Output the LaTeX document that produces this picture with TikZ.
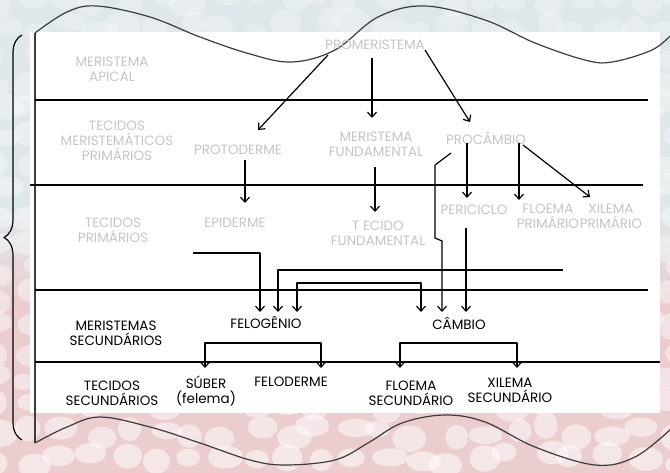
\documentclass[tikz,border=0pt]{standalone}
\usepackage{fontspec}
\setmainfont{Poppins}
\usetikzlibrary{arrows.meta,calc,decorations.pathreplacing}
\definecolor{fundo}{HTML}{DFE7EA}
\definecolor{rosa}{HTML}{EBCDCF}
\definecolor{cinza}{HTML}{C6C6C6}
\definecolor{contorno}{HTML}{3C3C3C}
\tikzset{
	rotulo/.style={align=center, inner sep=0pt, font=\fontsize{13.5}{15}\selectfont},
	claro/.style={rotulo, text=cinza},
	escuro/.style={rotulo, text=black},
}
\begin{document}
\begin{tikzpicture}[x=1pt, y=-1pt, line join=round, line width=1.2pt, >={Straight Barb[length=5pt,width=9pt]}]
	\useasboundingbox (0,0) rectangle (670,473);
	% fundo com celulas
	\fill[rosa] (0,0) rectangle (670,473);
	\fill[fundo] (0,0) rectangle (670,215);
	\shade[top color=fundo, bottom color=rosa] (0,214) rectangle (670,300);
	\pgfmathsetseed{12}
	\begin{scope}
		\clip (0,0) rectangle (670,473);
		\foreach \j in {0,...,17} {
			\pgfmathsetmacro\op{0.25+0.25*\j/17}
			\foreach \i in {0,...,21}
				\fill[white, opacity=\op] ({\i*32+9*rand},{\j*27+7*rand}) ellipse [x radius={15+4*rand}, y radius={11+3*rand}];
		}
	\end{scope}
	\fill[white] (30,32) rectangle (660,413);
	% contorno ondulado
	\draw[contorno] plot[smooth, tension=.6] coordinates {(35,33) (67,12) (97,6) (150,17) (200,37) (250,54) (292,62) (335,50) (378,17) (425,6) (485,20) (535,43) (585,60) (612,62) (652,50) (672,34)};
	\draw[contorno] plot[smooth, tension=.6] coordinates {(35,443) (67,427) (100,417) (150,427) (200,443) (250,460) (285,465) (335,460) (368,443) (402,423) (445,415) (485,422) (535,447) (595,465) (635,457) (672,428)};
	\draw[contorno] (35,33) -- (35,443);
	\draw[decorate, decoration={brace, amplitude=18pt, aspect=.5}] (22,440) -- (22,35);
	% faixas
	\draw (35,100) -- (648,100);
	\draw (30,185) -- (643,185);
	\draw (35,290) -- (648,290);
	\draw (35,362) -- (660,362);
	% rotulos
	\node[claro] (apical) at (112,69) {MERISTEMA\\APICAL};
	\node[claro] (promer) at (375,45) {PROMERISTEMA};
	\node[claro] (tmp) at (117,141) {TECIDOS\\MERISTEMÁTICOS\\PRIMÁRIOS};
	\node[claro] (proto) at (238,150) {PROTODERME};
	\node[claro] (mfund) at (376,144) {MERISTEMA\\FUNDAMENTAL};
	\node[claro] (procam) at (486,138) {PROCÂMBIO};
	\node[claro] (tp) at (113,230) {TECIDOS\\PRIMÁRIOS};
	\node[claro] (epid) at (235,223) {EPIDERME};
	\node[claro] (tfund) at (378,233) {T ECIDO\\FUNDAMENTAL};
	\node[claro] (peric) at (474,210) {PERICICLO};
	\node[claro] (flp) at (548,216) {FLOEMA\\PRIMÁRIO};
	\node[claro] (xlp) at (611,216) {XILEMA\\PRIMÁRIO};
	\node[escuro] (ms) at (116,333) {MERISTEMAS\\SECUNDÁRIOS};
	\node[escuro] (felog) at (266,322) {FELOGÊNIO};
	\node[escuro] (camb) at (459,323) {CÂMBIO};
	\node[escuro] (ts) at (112,393) {TECIDOS\\SECUNDÁRIOS};
	\node[escuro] (suber) at (206,391) {SÚBER\\(felema)};
	\node[escuro] (felod) at (291,382) {FELODERME};
	\node[escuro] (fls) at (411,393) {FLOEMA\\SECUNDÁRIO};
	\node[escuro] (xls) at (510,390) {XILEMA\\SECUNDÁRIO};
	\coordinate (epi-ramo) at (193,253);
	\coordinate (flo-ramo) at (563,270);
	% setas
	\draw[->] ($(promer)+(-47,10)$) -- ($(proto)+(20,-20)$);
	\draw[->] ($(promer)+(-3,13)$) -- ($(mfund)+(-4,-26)$);
	\draw[->] ($(promer)+(50,5)$) -- ($(procam)+(-16,-16)$);
	\draw[->] ($(proto)+(7,10)$) -- ($(epid)+(10,-20)$);
	\draw[->] ($(mfund)+(-1,23)$) -- ($(tfund)+(-3,-21)$);
	\draw[->] ($(procam)+(-19,5)$) -- ($(peric)+(-7,-12)$);
	\draw[->] ($(procam)+(33,5)$) -- ($(flp)+(-29,-16)$);
	\draw[->] ($(procam)+(37,7)$) -- ($(xlp)+(-21,-19)$);
	\draw[->] ($(procam)+(-35,15)$) -- ++(-16,12) -- ++(0,73) -- ++(7,3) -- ($(camb)+(-17,-11)$);
	\draw[->] ($(peric)+(-8,18)$) -- ($(camb)+(7,-11)$);
	\draw[->] (epi-ramo) -| ($(felog)+(-6,-10)$);
	\draw[->] (flo-ramo) -| ($(felog)+(12,-10)$);
	\draw[<->] ($(felog)+(31,-10)$) -- ++(0,-29) -| ($(camb)+(-38,-11)$);
	\draw[<->] ($(suber)+(-1,-23)$) -- ++(0,-25) -| ($(felod)+(30,-14)$);
	\draw[<->] ($(fls)+(-11,-25)$) -- ++(0,-25) -| ($(xls)+(7,-22)$);
\end{tikzpicture}
\end{document}
